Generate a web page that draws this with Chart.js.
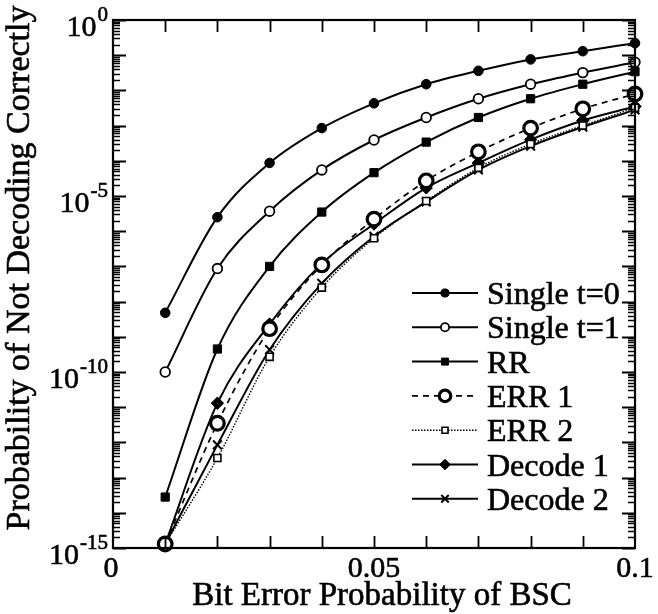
<!DOCTYPE html>
<html>
<head>
<meta charset="utf-8">
<script src="https://cdn.jsdelivr.net/npm/chart.js@4/dist/chart.umd.min.js"></script>
<style>
    body { margin: 0; background: #ffffff; }
    #wrap { width: 658px; height: 614px; }
</style>
</head>
<body>
<div id="wrap"><canvas id="bscChart" width="658" height="614"></canvas></div>
<script>
// bit error probability of the BSC
const bitErrorProb = [0.01, 0.02, 0.03, 0.04, 0.05, 0.06, 0.07, 0.08, 0.09, 0.10];

// probability of not decoding correctly, one array per scheme
const singleT0 = [4.8e-9, 2.5e-6, 8.7e-5, 8.5e-4, 4.3e-3, 1.5e-2, 3.6e-2, 7.6e-2, 0.13, 0.22];
const singleT1 = [1.0e-10, 8.7e-8, 3.7e-6, 5.5e-5, 3.9e-4, 1.7e-3, 5.8e-3, 1.5e-2, 3.2e-2, 6.3e-2];
const rrValues = [2.8e-14, 4.5e-10, 1.0e-7, 3.5e-6, 4.6e-5, 3.4e-4, 1.7e-3, 5.8e-3, 1.5e-2, 3.4e-2];
const err1Values = [1.3e-15, 3.5e-12, 1.7e-9, 1.1e-7, 2.2e-6, 2.7e-5, 1.8e-4, 8.5e-4, 3.0e-3, 7.9e-3];
const err2Values = [1.3e-15, 3.6e-13, 2.7e-10, 2.5e-8, 6.3e-7, 7.2e-6, 6.3e-5, 3.0e-4, 1.0e-3, 3.2e-3];
const decode1Values = [1.3e-15, 1.3e-11, 2.3e-9, 1.2e-7, 1.6e-6, 1.7e-5, 8.7e-5, 4.0e-4, 1.4e-3, 3.5e-3];
const decode2Values = [1.3e-15, 8.5e-13, 4.3e-10, 3.3e-8, 7.1e-7, 6.8e-6, 5.5e-5, 2.6e-4, 9.1e-4, 2.8e-3];

const seriesNames = ['Single t=0', 'Single t=1', 'RR', 'ERR 1', 'ERR 2', 'Decode 1', 'Decode 2'];

// axis labelling
const xTickLabels = ['0', '0.05', '0.1'];
const xTickValues = [0, 0.05, 0.1];
const yTickExponents = ['0', '-5', '-10', '-15'];
const yTickValues = [1, 1e-5, 1e-10, 1e-15];
const xTitle = 'Bit Error Probability of BSC';
const yTitle = 'Probability of Not Decoding Correctly';

const serif = '"Liberation Serif", "DejaVu Serif", serif';
const ink = '#000000';

function toPoints(values) {
    return values.map(function (v, i) {
        return { x: bitErrorProb[i], y: v };
    });
}

// the scanned original has heavy type, so give the text a thin outline too
function heavyText(ctx, text, x, y) {
    ctx.fillText(text, x, y);
    ctx.lineWidth = 0.6;
    ctx.strokeText(text, x, y);
}

const seriesStyles = [
    { values: singleT0, pointStyle: 'circle', radius: 4.8, fill: ink, borderWidth: 1, dash: [], lineWidth: 2 },
    { values: singleT1, pointStyle: 'circle', radius: 4.8, fill: '#ffffff', borderWidth: 1.8, dash: [], lineWidth: 2 },
    { values: rrValues, pointStyle: 'rect', radius: 5.8, fill: ink, borderWidth: 1, dash: [], lineWidth: 2 },
    { values: err1Values, pointStyle: 'circle', radius: 6.8, fill: '#ffffff', borderWidth: 3.2, dash: [6, 5], lineWidth: 1.7 },
    { values: err2Values, pointStyle: 'rect', radius: 5, fill: '#ffffff', borderWidth: 1.6, dash: [1.5, 1.5], lineWidth: 1.4 },
    { values: decode1Values, pointStyle: 'rectRot', radius: 6.2, fill: ink, borderWidth: 1, dash: [], lineWidth: 2 },
    { values: decode2Values, pointStyle: 'crossRot', radius: 6.2, fill: ink, borderWidth: 2, dash: [], lineWidth: 2 }
];

const datasets = seriesStyles.map(function (s, i) {
    return {
        label: seriesNames[i],
        data: toPoints(s.values),
        borderColor: ink,
        borderWidth: s.lineWidth,
        borderDash: s.dash,
        backgroundColor: ink,
        pointStyle: s.pointStyle,
        pointRadius: s.radius,
        pointBackgroundColor: s.fill,
        pointBorderColor: ink,
        pointBorderWidth: s.borderWidth,
        cubicInterpolationMode: 'monotone',
        fill: false,
        clip: false
    };
});

// box, inward ticks, tick labels, titles and the legend
const framePlugin = {
    id: 'frame',
    afterDraw: function (chart) {
        const ctx = chart.ctx;
        const area = chart.chartArea;
        const xs = chart.scales.x;
        const ys = chart.scales.y;

        ctx.save();
        ctx.strokeStyle = ink;
        ctx.fillStyle = ink;

        // frame
        ctx.lineWidth = 2.2;
        ctx.strokeRect(area.left, area.top, area.right - area.left, area.bottom - area.top);

        // x ticks every 0.01, top and bottom
        ctx.lineWidth = 1.8;
        for (let k = 1; k < 10; k++) {
            const px = Math.round(xs.getPixelForValue(k / 100)) + 0.5;
            ctx.beginPath();
            ctx.moveTo(px, area.bottom);
            ctx.lineTo(px, area.bottom - 12);
            ctx.moveTo(px, area.top);
            ctx.lineTo(px, area.top + 12);
            ctx.stroke();
        }

        // y ticks: decades long, 2..9 short, left and right
        for (let e = -15; e <= 0; e++) {
            for (let m = 1; m <= 9; m++) {
                if (e === 0 && m > 1) {
                    break;
                }
                const py = Math.round(ys.getPixelForValue(m * Math.pow(10, e))) + 0.5;
                const len = m === 1 ? 13 : 7;
                ctx.lineWidth = m === 1 ? 2.2 : 1.5;
                ctx.beginPath();
                ctx.moveTo(area.left, py);
                ctx.lineTo(area.left + len, py);
                ctx.moveTo(area.right, py);
                ctx.lineTo(area.right - len, py);
                ctx.stroke();
            }
        }

        // x tick labels
        ctx.font = '30px ' + serif;
        ctx.textAlign = 'center';
        ctx.textBaseline = 'alphabetic';
        xTickLabels.forEach(function (label, i) {
            let px = xs.getPixelForValue(xTickValues[i]);
            if (i === 0) {
                px -= 2;
            }
            heavyText(ctx, label, px, area.bottom + 29);
        });

        // y tick labels as 10 with a raised exponent
        yTickExponents.forEach(function (expText, i) {
            const py = ys.getPixelForValue(yTickValues[i]);
            const rightEdge = 108;
            ctx.textAlign = 'right';
            ctx.font = '21px ' + serif;
            const expWidth = ctx.measureText(expText).width;
            heavyText(ctx, expText, rightEdge, py + 1);
            ctx.font = '30px ' + serif;
            heavyText(ctx, '10', rightEdge - expWidth - 1, py + 16);
        });

        // axis titles
        ctx.font = '33px ' + serif;
        ctx.textAlign = 'center';
        heavyText(ctx, xTitle, 382, 605);
        ctx.font = '34px ' + serif;
        ctx.save();
        ctx.translate(29, 268);
        ctx.rotate(-Math.PI / 2);
        heavyText(ctx, yTitle, 0, 0);
        ctx.restore();

        // legend inside the plot
        const rowTop = 293;
        const rowGap = 34.3;
        const lineStart = 412;
        const lineEnd = 478;
        ctx.textAlign = 'left';
        seriesStyles.forEach(function (s, i) {
            const ry = rowTop + i * rowGap;
            ctx.lineWidth = s.lineWidth;
            ctx.setLineDash(s.dash);
            ctx.beginPath();
            ctx.moveTo(lineStart, ry);
            ctx.lineTo(lineEnd, ry);
            ctx.stroke();
            ctx.setLineDash([]);
            ctx.fillStyle = s.fill;
            ctx.strokeStyle = ink;
            ctx.lineWidth = s.borderWidth;
            Chart.helpers.drawPoint(ctx, {
                pointStyle: s.pointStyle,
                radius: s.radius * 0.85,
                rotation: 0,
                borderWidth: s.borderWidth
            }, (lineStart + lineEnd) / 2, ry);
            ctx.fillStyle = ink;
            ctx.font = '32px ' + serif;
            heavyText(ctx, seriesNames[i], 487, ry + 11);
        });

        ctx.restore();
    }
};

new Chart(document.getElementById('bscChart').getContext('2d'), {
    type: 'line',
    data: { datasets: datasets },
    options: {
        responsive: false,
        animation: false,
        layout: {
            padding: { left: 113, top: 20, right: 23, bottom: 66 }
        },
        scales: {
            x: { type: 'linear', min: 0, max: 0.1, display: false },
            y: { type: 'logarithmic', min: 1e-15, max: 1, display: false }
        },
        plugins: {
            legend: { display: false },
            tooltip: { enabled: false }
        }
    },
    plugins: [framePlugin]
});
</script>
</body>
</html>
